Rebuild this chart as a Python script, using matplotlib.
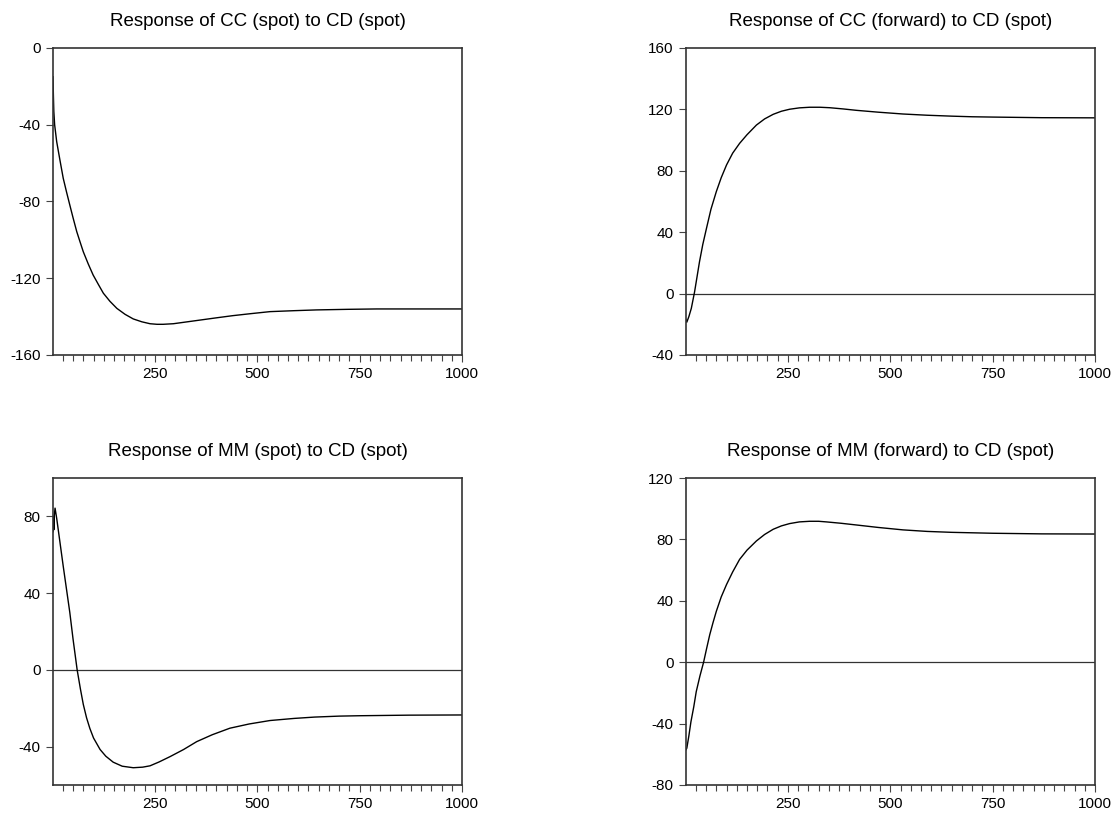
import matplotlib
matplotlib.use("Agg")
import matplotlib.pyplot as plt
from matplotlib.ticker import MultipleLocator, FixedLocator

plt.rcParams['font.family'] = ['Liberation Sans', 'DejaVu Sans']
plt.rcParams['axes.unicode_minus'] = False

# values (horizon 1..1000)
cc_spot_x = [1, 2, 3, 5, 10, 18, 26, 34, 42, 50, 59, 67, 75, 87, 99, 112, 124, 140, 157, 177, 197,
             218, 238, 255, 270, 295, 319, 360, 401, 440, 482, 531, 590, 645, 720, 792, 900, 1000]
cc_spot_y = [-15, -25, -33, -40, -48.8, -58.5, -67.9, -75, -81.8, -88.5, -95.7, -101, -106.2, -112.5,
             -118.3, -123.3, -127.8, -132, -135.7, -138.8, -141.2, -142.7, -143.7, -144.0, -144.0,
             -143.7, -143.0, -141.8, -140.6, -139.5, -138.5, -137.4, -136.9, -136.5, -136.2, -136.0,
             -136.0, -136.0]

cc_fwd_x = [1, 3, 8, 14, 22, 28, 34, 42, 51, 62, 75, 87, 100, 115, 132, 150, 173, 193, 214, 234, 254,
            278, 303, 328, 352, 385, 417, 470, 531, 590, 650, 700, 750, 870, 1000]
cc_fwd_y = [-17, -18.6, -15, -9.6, 1.2, 11, 20.8, 32, 42.5, 55, 66.4, 75.5, 83.8, 91.5, 97.9, 103.5,
            109.8, 113.8, 116.8, 118.8, 120.1, 121.0, 121.4, 121.4, 121.1, 120.3, 119.4, 118.2, 117.0,
            116.2, 115.6, 115.2, 115.0, 114.6, 114.5]

mm_spot_x = [1, 2, 3, 4, 6, 10, 18, 26, 33, 42, 50, 60, 68, 75, 83, 91, 100, 116, 130, 148, 170, 197,
             220, 238, 260, 287, 320, 352, 390, 433, 480, 531, 590, 640, 700, 750, 870, 1000]
mm_spot_y = [72, 80, 73, 80, 84.3, 79, 66.5, 54, 43.5, 30, 16, 0, -10, -18, -25, -30.5, -35.5, -41.5,
             -45, -48.1, -50.2, -51, -50.7, -50, -48, -45.2, -41.5, -37.4, -33.8, -30.4, -28.2, -26.4,
             -25.3, -24.6, -24.1, -23.9, -23.6, -23.5]

mm_fwd_x = [1, 3, 8, 13, 20, 26, 35, 44, 51, 59, 67, 75, 87, 100, 115, 132, 150, 173, 193, 214, 234,
            254, 278, 303, 325, 344, 380, 417, 470, 531, 590, 650, 750, 870, 1000]
mm_fwd_y = [-57, -56, -48, -38.9, -29, -19.2, -9, 0, 8.5, 17.9, 25.8, 33.1, 42.5, 50.6, 58.8, 67.0,
            73, 79.0, 83.2, 86.6, 88.8, 90.3, 91.4, 91.8, 91.8, 91.4, 90.5, 89.4, 87.8, 86.2, 85.2,
            84.6, 84.0, 83.6, 83.5]

panels = [
    ("Response of CC (spot) to CD (spot)", cc_spot_x, cc_spot_y, (-160, 0), [-160, -120, -80, -40, 0], False),
    ("Response of CC (forward) to CD (spot)", cc_fwd_x, cc_fwd_y, (-40, 160), [-40, 0, 40, 80, 120, 160], True),
    ("Response of MM (spot) to CD (spot)", mm_spot_x, mm_spot_y, (-60, 100), [-40, 0, 40, 80], True),
    ("Response of MM (forward) to CD (spot)", mm_fwd_x, mm_fwd_y, (-80, 120), [-80, -40, 0, 40, 80, 120], True),
]

W, H = 1117, 815
fig = plt.figure(figsize=(W / 100, H / 100), dpi=100)
boxes = [(53, 48), (686, 48), (53, 478), (686, 478)]
aw, ah = 409, 307

for (title, xs, ys, ylim, yt, zero), (lx, ty) in zip(panels, boxes):
    ax = fig.add_axes([lx / W, 1 - (ty + ah) / H, aw / W, ah / H])
    if zero:
        ax.axhline(0, color='#333333', lw=0.9)
    ax.plot(xs, ys, color='black', lw=1.0)
    ax.set_xlim(1, 1000)
    ax.set_ylim(*ylim)
    ax.yaxis.set_major_locator(FixedLocator(yt))
    ax.xaxis.set_major_locator(FixedLocator([250, 500, 750, 1000]))
    ax.xaxis.set_minor_locator(MultipleLocator(25))
    ax.tick_params(axis='both', which='major', direction='out', length=5, width=0.8,
                   color='#444444', labelsize=11, pad=4)
    ax.tick_params(axis='x', which='minor', direction='out', length=4, width=0.8, color='#444444')
    ax.tick_params(top=False, right=False)
    for s in ax.spines.values():
        s.set_color('#333333')
        s.set_linewidth(1.2)
    ax.set_title(title, fontsize=13.5, pad=16)

fig.savefig("out.png", dpi=100)
